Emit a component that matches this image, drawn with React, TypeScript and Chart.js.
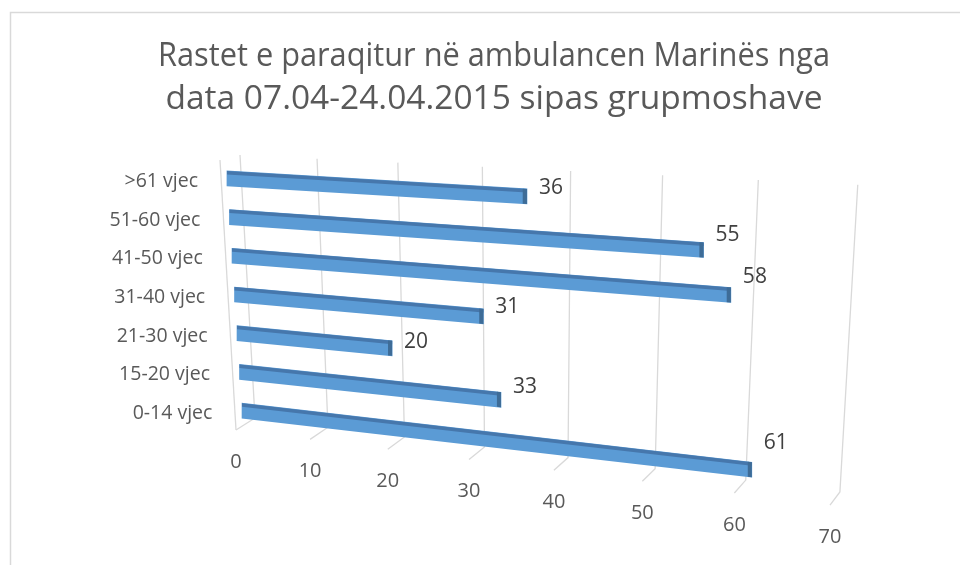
import React, { useEffect, useRef } from "react";
import { Chart, registerables, LinearScale } from "chart.js";

Chart.register(...registerables);

const titleLines = [
  "Rastet e paraqitur në ambulancen Marinës nga",
  "data 07.04-24.04.2015 sipas grupmoshave",
];
const categories = [">61 vjec", "51-60 vjec", "41-50 vjec", "31-40 vjec", "21-30 vjec", "15-20 vjec", "0-14 vjec"];
const cases = [36, 55, 58, 31, 20, 33, 61];
const xTicks = [0, 10, 20, 30, 40, 50, 60, 70];

const FONT = "'Open Sans', 'Noto Sans', sans-serif";
const CURVE = 0.148; // perspective foreshortening of the value axis

class PerspectiveScale extends LinearScale {
  static id = "perspective";
  static defaults = (LinearScale as any).defaults;
  getPixelForDecimal(d: number) {
    return super.getPixelForDecimal(d * (1 - CURVE) + CURVE * d * d);
  }
  getDecimalForPixel(p: number) {
    const e = super.getDecimalForPixel(p);
    return (-(1 - CURVE) + Math.sqrt((1 - CURVE) ** 2 + 4 * CURVE * e)) / (2 * CURVE);
  }
}
Chart.register(PerspectiveScale as any);

// depth parameters for row k (0 = back / top row)
const persp = (k: number) => ({
  a: 1.058 - 0.009 * k,
  slope: 0.06 + 0.0093 * k,
  shift: -9 + 2.5 * k,
});

const depthPlugin = {
  id: "depth3d",
  beforeDraw(chart: any) {
    const { ctx } = chart;
    ctx.save();
    ctx.fillStyle = "#ffffff";
    ctx.fillRect(0, 0, chart.width, chart.height);
    ctx.strokeStyle = "#D9D9D9";
    ctx.lineWidth = 1.5;
    ctx.strokeRect(10.5, 12.5, chart.width + 20, chart.height + 20);
    ctx.restore();
  },
  beforeDatasetsDraw(chart: any) {
    const { ctx } = chart;
    const { left: x0, top: T, bottom: B } = chart.chartArea;
    const xs = chart.scales.x;
    const ys = chart.scales.y;
    ctx.save();
    ctx.strokeStyle = "#D9D9D9";
    ctx.lineWidth = 1.3;
    ctx.beginPath();
    ctx.moveTo(x0 - 16, T + 1);
    ctx.lineTo(x0, B);
    ctx.stroke();
    xTicks.forEach((v) => {
      const P = xs.getPixelForValue(v);
      const d = P - x0;
      ctx.beginPath();
      ctx.moveTo(P + 4 + 0.04 * d, T - 4 + 0.05 * d);
      ctx.lineTo(P + 19 - 0.0153 * d, B - 12 + 0.1246 * d);
      ctx.lineTo(P, B + 0.1263 * d);
      ctx.stroke();
    });
    ctx.fillStyle = "#595959";
    ctx.font = `20px ${FONT}`;
    ctx.textAlign = "center";
    ctx.textBaseline = "middle";
    xTicks.forEach((v) => {
      const P = xs.getPixelForValue(v);
      const d = P - x0;
      ctx.fillText(String(v), P, B + 0.1263 * d + 32);
    });
    // category labels (shifted slightly with depth)
    ctx.textAlign = "right";
    ctx.font = `19.5px ${FONT}`;
    categories.forEach((c, k) => {
      const y = ys.getPixelForValue(k);
      ctx.fillText(c, x0 - 38 + 2.4 * k, y + 3);
    });
    ctx.restore();
  },
  beforeDatasetDraw(chart: any, args: any) {
    const { ctx } = chart;
    const x0 = chart.chartArea.left;
    const { a, slope, shift } = persp(args.index);
    ctx.save();
    ctx.translate(x0 + shift, 0);
    ctx.transform(a, slope * a, 0, 1, 0, 0);
    ctx.translate(-x0, 0);
  },
  afterDatasetDraw(chart: any, args: any) {
    const { ctx } = chart;
    const k = args.index;
    const el = chart.getDatasetMeta(k).data[k];
    if (el) {
      const p = el.getProps(["x", "y", "base", "height"], true);
      const top = p.y - p.height / 2;
      const w = p.x - p.base;
      ctx.fillStyle = "#4677AC";
      ctx.fillRect(p.base, top, w, 3.5);
      ctx.fillStyle = "#3E6C97";
      ctx.fillRect(p.x - 4, top, 4, p.height);
    }
    ctx.restore();
  },
  afterDatasetsDraw(chart: any) {
    const { ctx } = chart;
    const x0 = chart.chartArea.left;
    ctx.save();
    ctx.fillStyle = "#404040";
    ctx.font = `21px ${FONT}`;
    ctx.textAlign = "left";
    ctx.textBaseline = "middle";
    cases.forEach((v, k) => {
      const el = chart.getDatasetMeta(k).data[k];
      if (!el) return;
      const { a, slope, shift } = persp(k);
      const len = a * (el.x - x0);
      const endX = x0 + shift + len;
      ctx.fillText(String(v), endX + 12, el.y + 0.55 * slope * len);
    });
    ctx.restore();
  },
};

export default function App() {
  const ref = useRef<HTMLCanvasElement>(null);
  useEffect(() => {
    document.body.style.margin = "0";
    const canvas = ref.current!;
    const datasets = cases.map((v, i) => ({
      label: categories[i],
      data: categories.map((_, j) => (j === i ? v : null)),
      backgroundColor: "#5B9BD5",
      borderWidth: 0,
      barThickness: 15,
      grouped: false,
      clip: false as any,
    }));
    const chart = new Chart(canvas, {
      type: "bar",
      data: { labels: categories, datasets: datasets as any },
      options: {
        indexAxis: "y",
        responsive: false,
        animation: false,
        events: [],
        layout: { padding: { left: 158, right: 130, top: 0, bottom: 135 } },
        plugins: {
          legend: { display: false },
          tooltip: { enabled: false },
          title: {
            display: true,
            text: titleLines,
            color: "#595959",
            font: { family: FONT, size: 33.5, weight: "normal", lineHeight: 1.284 },
            padding: { top: 35, bottom: 38 },
          },
        },
        scales: {
          x: {
            type: "perspective" as any,
            min: 0,
            max: 70,
            display: false,
          },
          y: {
            type: "category",
            grid: { display: false },
            border: { display: false },
            ticks: { display: false },
            afterFit: (scale: any) => {
              scale.width = 78;
            },
          },
        },
      },
      plugins: [depthPlugin],
    });
    return () => chart.destroy();
  }, []);
  return (
    <div style={{ width: 960, height: 565 }}>
      <canvas ref={ref} width={960} height={565} style={{ display: "block" }} />
    </div>
  );
}
